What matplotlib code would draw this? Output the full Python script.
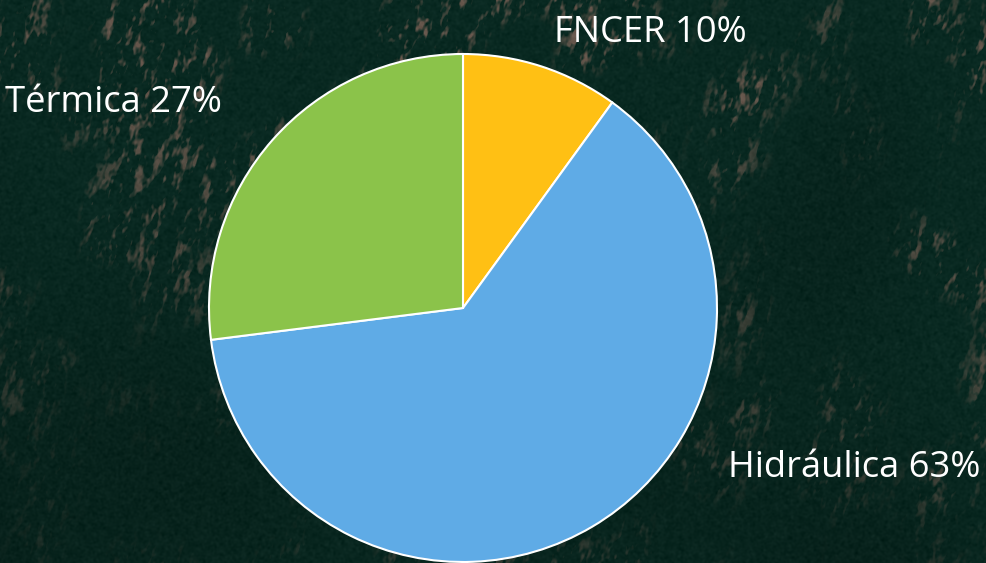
import numpy as np
import matplotlib.pyplot as plt

# --- Data ---
labels = ["FNCER 10%", "Hidráulica 63%", "Térmica 27%"]
values = [10, 63, 27]
colors = ["#FFC014", "#5FABE6", "#8BC34A"]

W, H = 986, 563
fig = plt.figure(figsize=(W / 100, H / 100), dpi=100, facecolor="#0a2a22")


# --- Background texture (decoration only, not chart data) ---
def smooth_noise(rng, sx, sy):
    # gaussian filtered noise, done in fourier space
    n = rng.standard_normal((H, W))
    fy = np.fft.fftfreq(H)[:, None]
    fx = np.fft.fftfreq(W)[None, :]
    # slanted so the ridges run steeply like the aerial photo
    u = fx * 0.95 + fy * 0.30
    v = -fx * 0.30 + fy * 0.95
    g = np.exp(-2 * np.pi ** 2 * ((u * sx) ** 2 + (v * sy) ** 2))
    out = np.fft.ifft2(np.fft.fft2(n) * g).real
    return out / out.std()


rng = np.random.default_rng(11)
patches = smooth_noise(rng, 2.5, 7) + 0.7 * smooth_noise(rng, 1.0, 2)
clusters = smooth_noise(rng, 22, 28)
region = smooth_noise(rng, 80, 80)

yy, xx = np.mgrid[0:H, 0:W]
# photo is brighter towards the upper and right parts, darkest bottom left
light_map = np.clip(1.0 - (yy / H) * 0.95 + (xx / W) * 0.6 + 0.25 * region, 0.05, 1.2)
cluster_map = np.clip((clusters + 0.5) / 1.5, 0, 1)
amount = np.clip((patches - 0.5) / 2.0, 0, 1) * light_map * cluster_map
fine = 0.008 * smooth_noise(rng, 1.0, 1.0)

base = np.array([0.035, 0.160, 0.130])
brown = np.array([0.34, 0.31, 0.27])
shade = (0.78 + 0.22 * np.clip(light_map, 0, 1))[:, :, None]
img = base * shade + amount[:, :, None] * (brown - base) + fine[:, :, None]
img = np.clip(img, 0, 1)

bg = fig.add_axes([0, 0, 1, 1], zorder=0)
bg.axis("off")
bg.imshow(img, aspect="auto", interpolation="bilinear")

# --- Pie, centre (463, 308), radius 254 px ---
ax = fig.add_axes([0, 0, 1, 1], zorder=1)
ax.patch.set_alpha(0)
wedges, _ = ax.pie(
    values,
    colors=colors,
    startangle=90,
    counterclock=False,
    center=(463, H - 308),
    radius=254,
    frame=True,
    wedgeprops={"edgecolor": "white", "linewidth": 1.5},
)
ax.set_aspect("equal")
ax.set_xlim(0, W)
ax.set_ylim(0, H)
ax.axis("off")

# --- Labels ---
text_style = {"color": "white", "fontsize": 26.2, "family": "Open Sans", "va": "center"}
fig.text(554 / W, 1 - 33 / H, labels[0], **text_style)
fig.text(728 / W, 1 - 468 / H, labels[1], **text_style)
fig.text(5 / W, 1 - 103 / H, labels[2], **text_style)

plt.savefig("out.png", dpi=100, facecolor=fig.get_facecolor())
